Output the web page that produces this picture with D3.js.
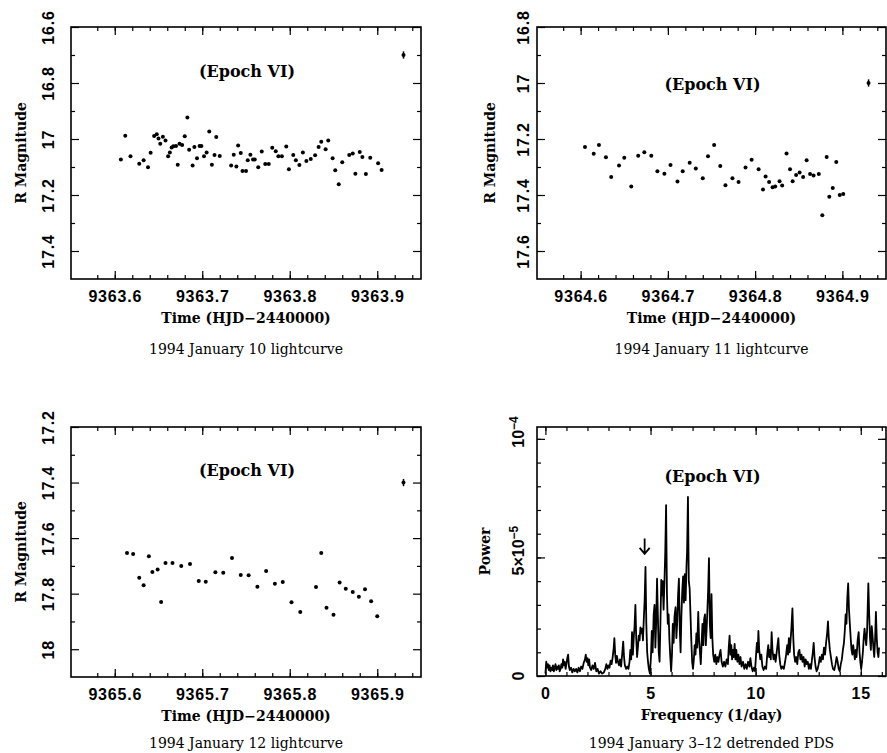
<!DOCTYPE html>
<html>
<head>
<meta charset="utf-8">
<script src="https://cdn.jsdelivr.net/npm/d3@7"></script>
<style>
  body { margin: 0; background: #fff; }
  svg text { fill: #000; }
  .tick line { stroke: #000; stroke-width: 1.2; }
</style>
</head>
<body>
<div id="viz"></div>
<script>
// ---- data ----
var jan10Time = [9363.607, 9363.612, 9363.618, 9363.628, 9363.633, 9363.638, 9363.641, 9363.645, 9363.648, 9363.650,
  9363.652, 9363.655, 9363.658, 9363.661, 9363.663, 9363.665, 9363.667, 9363.670, 9363.672, 9363.674,
  9363.677, 9363.680, 9363.683, 9363.685, 9363.689, 9363.691, 9363.694, 9363.697, 9363.699, 9363.702,
  9363.705, 9363.708, 9363.711, 9363.714, 9363.716, 9363.720, 9363.733, 9363.736, 9363.739, 9363.741,
  9363.744, 9363.746, 9363.750, 9363.752, 9363.755, 9363.758, 9363.760, 9363.764, 9363.768, 9363.772,
  9363.776, 9363.780, 9363.784, 9363.787, 9363.791, 9363.796, 9363.799, 9363.804, 9363.807, 9363.811,
  9363.815, 9363.819, 9363.824, 9363.829, 9363.833, 9363.836, 9363.841, 9363.844, 9363.849, 9363.852,
  9363.856, 9363.860, 9363.868, 9363.872, 9363.875, 9363.880, 9363.883, 9363.887, 9363.892, 9363.901, 9363.905];
var jan10Mag = [17.073, 16.988, 17.062, 17.088, 17.076, 17.101, 17.049, 16.989, 16.983, 16.998,
  17.017, 16.992, 17.005, 17.062, 17.048, 17.030, 17.026, 17.025, 17.092, 17.017,
  17.021, 16.990, 16.923, 17.038, 17.095, 17.029, 17.069, 17.025, 17.025, 17.062,
  17.048, 16.973, 17.092, 17.057, 16.993, 17.061, 17.095, 17.056, 17.098, 17.023,
  17.050, 17.114, 17.114, 17.076, 17.056, 17.073, 17.073, 17.101, 17.045, 17.089,
  17.089, 17.031, 17.044, 17.062, 17.062, 17.027, 17.108, 17.057, 17.076, 17.093,
  17.048, 17.079, 17.071, 17.058, 17.029, 17.010, 17.037, 17.005, 17.069, 17.112,
  17.162, 17.083, 17.057, 17.052, 17.124, 17.046, 17.064, 17.125, 17.067, 17.087, 17.111];

var jan11Time = [9364.605, 9364.615, 9364.621, 9364.629, 9364.635, 9364.644, 9364.650, 9364.658, 9364.666, 9364.673,
  9364.681, 9364.688, 9364.696, 9364.703, 9364.711, 9364.717, 9364.725, 9364.732, 9364.740, 9364.746,
  9364.753, 9364.760, 9364.766, 9364.774, 9364.781, 9364.789, 9364.796, 9364.804, 9364.809, 9364.812,
  9364.816, 9364.820, 9364.823, 9364.828, 9364.831, 9364.836, 9364.840, 9364.843, 9364.847, 9364.851,
  9364.855, 9364.859, 9364.863, 9364.867, 9364.873, 9364.877, 9364.882, 9364.885, 9364.889, 9364.893,
  9364.897, 9364.901];
var jan11Mag = [17.229, 17.253, 17.221, 17.265, 17.336, 17.295, 17.267, 17.370, 17.260, 17.247,
  17.260, 17.315, 17.324, 17.293, 17.352, 17.315, 17.285, 17.305, 17.340, 17.262,
  17.221, 17.296, 17.365, 17.340, 17.354, 17.302, 17.274, 17.308, 17.380, 17.334,
  17.354, 17.372, 17.370, 17.351, 17.366, 17.252, 17.308, 17.351, 17.329, 17.320,
  17.336, 17.276, 17.325, 17.330, 17.325, 17.472, 17.264, 17.406, 17.375, 17.282,
  17.400, 17.396];

var jan12Time = [9365.614, 9365.621, 9365.628, 9365.633, 9365.639, 9365.643, 9365.649, 9365.653, 9365.658, 9365.666,
  9365.676, 9365.686, 9365.696, 9365.704, 9365.715, 9365.724, 9365.734, 9365.744, 9365.753, 9365.763,
  9365.773, 9365.783, 9365.792, 9365.802, 9365.812, 9365.830, 9365.836, 9365.842, 9365.850, 9365.857,
  9365.864, 9365.872, 9365.879, 9365.886, 9365.893, 9365.900];
var jan12Mag = [17.654, 17.657, 17.743, 17.770, 17.665, 17.722, 17.713, 17.830, 17.690, 17.690,
  17.700, 17.693, 17.754, 17.757, 17.723, 17.725, 17.672, 17.733, 17.734, 17.775,
  17.718, 17.764, 17.758, 17.831, 17.866, 17.776, 17.654, 17.851, 17.876, 17.760,
  17.782, 17.794, 17.811, 17.784, 17.827, 17.881];

// typical error bar (time, mag) per night, half-length in mag
var errTime = [9363.930, 9364.930, 9365.930];
var errMag = [16.70, 17.00, 17.40];
var errSize = 0.013;

// power spectrum, power in units of 1e-5
var pdsFreq = [0.00, 0.04, 0.08, 0.12, 0.16, 0.2, 0.24, 0.28, 0.32, 0.36, 0.4, 0.44, 0.48, 0.52, 0.56, 0.6, 0.64, 0.68, 0.72, 0.76,
  0.8, 0.84, 0.88, 0.92, 0.96, 1.0, 1.04, 1.08, 1.12, 1.16, 1.22, 1.28, 1.34, 1.4, 1.46, 1.52, 1.58, 1.64, 1.7, 1.76,
  1.82, 1.88, 1.92, 1.96, 2.0, 2.04, 2.08, 2.12, 2.18, 2.24, 2.3, 2.36, 2.42, 2.48, 2.55, 2.62, 2.7, 2.78, 2.85, 2.9,
  2.95, 3.0, 3.05, 3.1, 3.15, 3.2, 3.25, 3.28, 3.32, 3.36, 3.4, 3.45, 3.5, 3.55, 3.6, 3.65, 3.7, 3.74, 3.78, 3.84,
  3.9, 3.95, 4.0, 4.04, 4.08, 4.12, 4.16, 4.2, 4.24, 4.28, 4.32, 4.36, 4.4, 4.44, 4.48, 4.52, 4.56, 4.6, 4.64, 4.68,
  4.72, 4.76, 4.8, 4.84, 4.88, 4.92, 4.97, 5.02, 5.06, 5.1, 5.15, 5.19, 5.23, 5.27, 5.31, 5.35, 5.39, 5.43, 5.47, 5.51,
  5.54, 5.58, 5.62, 5.66, 5.7, 5.74, 5.78, 5.82, 5.86, 5.9, 5.94, 5.98, 6.02, 6.06, 6.1, 6.14, 6.19, 6.23, 6.27, 6.31,
  6.35, 6.39, 6.43, 6.47, 6.51, 6.55, 6.59, 6.63, 6.67, 6.71, 6.74, 6.78, 6.82, 6.86, 6.9, 6.94, 6.98, 7.02, 7.06, 7.1,
  7.14, 7.18, 7.22, 7.27, 7.31, 7.35, 7.39, 7.43, 7.47, 7.51, 7.55, 7.59, 7.63, 7.67, 7.71, 7.74, 7.78, 7.82, 7.86, 7.9,
  7.94, 7.98, 8.03, 8.08, 8.13, 8.18, 8.23, 8.28, 8.33, 8.38, 8.44, 8.5, 8.56, 8.62, 8.68, 8.72, 8.76, 8.8, 8.84, 8.88,
  8.92, 8.96, 9.0, 9.04, 9.08, 9.13, 9.18, 9.23, 9.28, 9.33, 9.4, 9.46, 9.52, 9.58, 9.64, 9.7, 9.75, 9.8, 9.86, 9.92,
  9.97, 10.02, 10.06, 10.1, 10.13, 10.17, 10.22, 10.27, 10.32, 10.38, 10.44, 10.5, 10.55, 10.6, 10.64, 10.68, 10.72, 10.76, 10.8, 10.85,
  10.9, 10.95, 11.0, 11.04, 11.08, 11.12, 11.17, 11.22, 11.28, 11.34, 11.4, 11.45, 11.5, 11.54, 11.58, 11.62, 11.66, 11.7, 11.75, 11.79,
  11.83, 11.88, 11.93, 11.98, 12.03, 12.08, 12.13, 12.18, 12.23, 12.28, 12.33, 12.38, 12.43, 12.48, 12.53, 12.58, 12.63, 12.68, 12.72, 12.76,
  12.8, 12.85, 12.9, 12.95, 13.0, 13.05, 13.1, 13.15, 13.2, 13.25, 13.3, 13.35, 13.4, 13.44, 13.48, 13.53, 13.58, 13.63, 13.68, 13.74,
  13.8, 13.85, 13.9, 13.95, 14.0, 14.05, 14.1, 14.15, 14.2, 14.24, 14.28, 14.32, 14.36, 14.4, 14.44, 14.48, 14.52, 14.56, 14.6, 14.64,
  14.68, 14.72, 14.76, 14.8, 14.85, 14.9, 14.94, 14.98, 15.02, 15.06, 15.1, 15.14, 15.18, 15.22, 15.26, 15.3, 15.33, 15.36, 15.4, 15.44,
  15.48, 15.52, 15.56, 15.6, 15.64, 15.68, 15.72, 15.76, 15.8, 15.84, 15.87];
var pdsPower = [0.1, 0.6, 0.35, 0.5, 0.25, 0.45, 0.2, 0.35, 0.25, 0.45, 0.2, 0.35, 0.5, 0.25, 0.4, 0.3, 0.45, 0.2, 0.3, 0.5,
  0.35, 0.7, 0.45, 0.6, 0.3, 0.5, 0.75, 0.9, 0.4, 0.25, 0.35, 0.15, 0.3, 0.2, 0.3, 0.15, 0.35, 0.2, 0.4, 0.3,
  0.55, 0.7, 0.9, 0.6, 0.75, 0.45, 0.7, 0.35, 0.25, 0.45, 0.3, 0.55, 0.2, 0.3, 0.1, 0.2, 0.1, 0.15, 0.3, 0.5,
  0.3, 0.45, 0.35, 0.65, 0.5, 0.8, 1.2, 1.6, 0.9, 0.55, 0.85, 0.6, 0.45, 0.7, 0.4, 0.9, 1.45, 0.8, 0.45, 0.3,
  0.4, 0.3, 0.6, 1.1, 0.7, 1.85, 0.9, 1.6, 2.1, 3.0, 1.6, 0.8, 1.2, 1.7, 1.5, 2.05, 1.8, 2.0, 1.5, 2.4,
  3.2, 4.6, 2.2, 1.0, 0.6, 0.3, 0.1, 0.8, 1.9, 1.0, 2.6, 3.0, 1.2, 2.3, 4.1, 2.5, 1.0, 0.6, 2.2, 4.05,
  3.4, 4.0, 2.8, 3.9, 5.2, 7.2, 3.5, 2.2, 2.6, 1.5, 0.8, 0.2, 0.9, 2.2, 1.4, 2.5, 2.9, 1.6, 2.3, 3.4,
  4.1, 2.0, 1.0, 2.6, 3.6, 4.2, 3.1, 4.3, 3.2, 4.6, 5.3, 7.55, 4.0, 3.7, 2.6, 1.5, 0.6, 0.3, 0.7, 1.3,
  0.9, 1.8, 1.2, 2.7, 1.5, 1.0, 0.5, 1.4, 2.2, 1.3, 2.4, 2.6, 1.3, 2.0, 2.9, 3.6, 4.97, 2.2, 1.6, 3.45,
  1.6, 0.9, 0.6, 0.9, 0.5, 0.8, 0.6, 0.9, 1.1, 0.6, 0.4, 0.6, 0.4, 0.7, 0.5, 1.2, 1.7, 0.9, 1.3, 0.7,
  1.1, 0.8, 1.35, 0.7, 1.1, 0.6, 0.9, 0.5, 0.8, 0.4, 0.6, 0.3, 0.5, 0.3, 0.6, 0.4, 0.75, 0.4, 0.2, 0.35,
  0.2, 0.9, 1.4, 1.0, 1.9, 1.1, 0.7, 0.9, 0.4, 0.25, 0.4, 0.3, 0.9, 1.3, 0.8, 1.1, 0.7, 1.85, 1.1, 0.7,
  0.9, 0.6, 1.0, 1.3, 1.6, 0.9, 0.5, 0.3, 0.4, 0.3, 0.6, 0.9, 1.3, 0.9, 1.6, 1.0, 1.5, 2.0, 2.85, 1.6,
  0.9, 0.6, 0.8, 0.5, 1.0, 1.1, 0.7, 0.9, 0.6, 0.8, 0.4, 0.7, 0.5, 0.6, 0.3, 0.5, 0.3, 0.7, 1.0, 1.4,
  0.8, 0.4, 0.2, 0.3, 0.5, 0.8, 0.6, 0.9, 0.7, 1.2, 0.9, 1.4, 1.8, 2.3, 1.6, 1.1, 0.8, 0.5, 0.3, 0.25,
  0.5, 0.8, 0.6, 0.3, 0.2, 0.5, 0.7, 1.1, 1.4, 1.9, 2.6, 2.2, 3.3, 3.9, 2.8, 2.2, 1.6, 1.1, 0.9, 1.3,
  1.0, 0.7, 1.1, 0.8, 1.5, 1.85, 1.0, 0.6, 0.3, 0.6, 1.0, 1.6, 2.0, 1.6, 1.3, 1.9, 2.9, 3.9, 2.6, 1.6,
  1.1, 2.1, 1.7, 1.2, 0.8, 1.5, 2.7, 1.6, 1.0, 0.8, 1.2];

// arrow marking the candidate peak (freq, top, tip)
var arrowFreq = 4.72, arrowTop = 5.8, arrowTip = 5.15;

var svg = d3.select("#viz").append("svg")
  .attr("width", 887)
  .attr("height", 753);

var tickFont = "'Liberation Sans', Arial, sans-serif";
var serif = "'DejaVu Serif', serif";

// inside ticks on all four sides + frame
function drawAxes(g, x, y, w, h, o) {
  g.append("g").attr("transform", "translate(0," + h + ")")
    .call(d3.axisBottom(x).tickValues(o.xMinor).tickSize(-4).tickFormat(""));
  var bx = g.append("g").attr("transform", "translate(0," + h + ")")
    .call(d3.axisBottom(x).tickValues(o.xMajor).tickSize(-8).tickPadding(12).tickFormat(o.fmtX));
  bx.selectAll("text")
    .style("font-family", tickFont).style("font-weight", "bold")
    .style("font-size", "16px").style("letter-spacing", "0.8px");
  g.append("g").call(d3.axisTop(x).tickValues(o.xMinor).tickSize(-4).tickFormat(""));
  g.append("g").call(d3.axisTop(x).tickValues(o.xMajor).tickSize(-8).tickFormat(""));

  g.append("g").call(d3.axisLeft(y).tickValues(o.yMinor).tickSize(-4).tickFormat(""));
  var ly = g.append("g").call(d3.axisLeft(y).tickValues(o.yMajor).tickSize(-8).tickFormat(o.fmtY));
  ly.selectAll("text")
    .attr("x", null).attr("dy", null)
    .attr("transform", "translate(" + o.yLabelX + ",0) rotate(-90)")
    .style("text-anchor", "middle")
    .style("font-family", tickFont).style("font-weight", "bold")
    .style("font-size", "16px").style("letter-spacing", "0.8px");
  g.append("g").attr("transform", "translate(" + w + ",0)")
    .call(d3.axisRight(y).tickValues(o.yMinor).tickSize(-4).tickFormat(""));
  g.append("g").attr("transform", "translate(" + w + ",0)")
    .call(d3.axisRight(y).tickValues(o.yMajor).tickSize(-8).tickFormat(""));

  g.selectAll(".domain").remove();
  g.append("rect").attr("width", w).attr("height", h)
    .attr("fill", "none").attr("stroke", "#000").attr("stroke-width", 1.6);

  // axis titles + caption
  g.append("text")
    .attr("x", w / 2).attr("y", h + 44)
    .style("text-anchor", "middle")
    .style("font-family", serif).style("font-weight", "bold").style("font-size", "14px")
    .text(o.xTitle);
  g.append("text")
    .attr("transform", "translate(" + o.yTitleX + "," + (h / 2) + ") rotate(-90)")
    .style("text-anchor", "middle")
    .style("font-family", serif).style("font-weight", "bold").style("font-size", "14px")
    .text(o.yTitle);
  g.append("text")
    .attr("x", w / 2).attr("y", h + o.captionY)
    .style("text-anchor", "middle")
    .style("font-family", serif).style("font-size", "14px")
    .text(o.caption);
  g.append("text")
    .attr("x", w / 2 + 1).attr("y", o.epochY)
    .style("text-anchor", "middle")
    .style("font-family", serif).style("font-weight", "bold").style("font-size", "16px")
    .text("(Epoch VI)");
}

function magFmt(d) { return String(+d.toFixed(1)); }

function lightcurve(p) {
  var w = p.right - p.left, h = p.bottom - p.top;
  var g = svg.append("g").attr("transform", "translate(" + p.left + "," + p.top + ")");
  var x = d3.scaleLinear().domain(p.tDomain).range([0, w]);
  var y = d3.scaleLinear().domain(p.mDomain).range([0, h]);
  var t0 = p.tDomain[0], m0 = p.mDomain[0];

  drawAxes(g, x, y, w, h, {
    xMajor: [0.05, 0.15, 0.25, 0.35].map(function (d) { return +(t0 + d).toFixed(2); }),
    xMinor: d3.range(1, 20).map(function (i) { return t0 + 0.01 + i * 0.02; }),
    yMajor: [0, 0.2, 0.4, 0.6, 0.8].map(function (d) { return +(m0 + d).toFixed(1); }),
    yMinor: [0.1, 0.3, 0.5, 0.7].map(function (d) { return m0 + d; }),
    fmtX: function (d) { return d.toFixed(1); },
    fmtY: magFmt,
    yLabelX: p.yLabelX, yTitleX: p.yTitleX,
    xTitle: "Time (HJD\u22122440000)",
    yTitle: "R Magnitude",
    caption: p.caption,
    captionY: p.captionY,
    epochY: p.epochY
  });

  var pts = p.time.map(function (t, i) { return { t: t, m: p.mag[i] }; });
  g.selectAll("circle.pt")
    .data(pts)
    .enter().append("circle")
    .attr("class", "pt")
    .attr("r", 2)
    .attr("cx", function (d) { return x(d.t); })
    .attr("cy", function (d) { return y(d.m); })
    .style("fill", "#000");

  // error bar sample
  g.append("line")
    .attr("x1", x(p.errT)).attr("x2", x(p.errT))
    .attr("y1", y(p.errM - errSize)).attr("y2", y(p.errM + errSize))
    .attr("stroke", "#000").attr("stroke-width", 1.5);
  g.append("circle").attr("r", 2).attr("cx", x(p.errT)).attr("cy", y(p.errM)).style("fill", "#000");
}

lightcurve({ left: 71, right: 421, top: 27, bottom: 279,
  tDomain: [9363.55, 9363.95], mDomain: [16.6, 17.5],
  time: jan10Time, mag: jan10Mag, errT: errTime[0], errM: errMag[0],
  yLabelX: -17, yTitleX: -45, epochY: 50, captionY: 75,
  caption: "1994 January 10 lightcurve" });

lightcurve({ left: 537, right: 886, top: 27, bottom: 279,
  tDomain: [9364.55, 9364.95], mDomain: [16.8, 17.7],
  time: jan11Time, mag: jan11Mag, errT: errTime[1], errM: errMag[1],
  yLabelX: -8, yTitleX: -42, epochY: 63, captionY: 75,
  caption: "1994 January 11 lightcurve" });

lightcurve({ left: 71, right: 421, top: 427, bottom: 677,
  tDomain: [9365.55, 9365.95], mDomain: [17.2, 18.1],
  time: jan12Time, mag: jan12Mag, errT: errTime[2], errM: errMag[2],
  yLabelX: -17, yTitleX: -45, epochY: 49, captionY: 71,
  caption: "1994 January 12 lightcurve" });

// ---- power density spectrum ----
(function () {
  var left = 537, right = 886, top = 427, bottom = 676;
  var w = right - left, h = bottom - top;
  var g = svg.append("g").attr("transform", "translate(" + left + "," + top + ")");
  var x = d3.scaleLinear().domain([-0.4, 16.2]).range([0, w]);
  var y = d3.scaleLinear().domain([0, 10.5]).range([h, 0]);

  drawAxes(g, x, y, w, h, {
    xMajor: [0, 5, 10, 15],
    xMinor: d3.range(0, 17),
    yMajor: [0, 5, 10],
    yMinor: d3.range(0, 11),
    fmtX: function (d) { return d; },
    fmtY: function () { return ""; },
    yLabelX: -13, yTitleX: -47,
    xTitle: "Frequency (1/day)",
    yTitle: "Power",
    caption: "1994 January 3\u201312 detrended PDS",
    captionY: 72,
    epochY: 55
  });

  // y tick labels with exponents
  var yLabels = [
    { v: 0, base: "0", exp: "" },
    { v: 5, base: "5\u00d710", exp: "\u22125" },
    { v: 10, base: "10", exp: "\u22124" }
  ];
  yLabels.forEach(function (d) {
    var t = g.append("text")
      .attr("transform", "translate(-13," + y(d.v) + ") rotate(-90)")
      .style("text-anchor", d.exp ? "start" : "middle")
      .style("font-family", tickFont).style("font-weight", "bold").style("font-size", "16px");
    t.append("tspan").text(d.base);
    if (d.exp) {
      t.append("tspan").attr("dy", "-0.5em").style("font-size", "12px").text(d.exp);
      // center the base part on the tick
      var bw = t.select("tspan").node().getComputedTextLength();
      t.attr("x", -bw / 2);
    }
  });

  var pts = pdsFreq.map(function (f, i) { return [f, pdsPower[i]]; });
  var line = d3.line()
    .x(function (d) { return x(d[0]); })
    .y(function (d) { return y(d[1]); });
  g.append("path")
    .datum(pts)
    .attr("d", line)
    .attr("fill", "none")
    .attr("stroke", "#000")
    .attr("stroke-width", 1.8)
    .attr("stroke-linejoin", "round");

  // arrow
  var ax = x(arrowFreq), a1 = y(arrowTop), a2 = y(arrowTip);
  g.append("path")
    .attr("d", "M" + ax + "," + a1 + "L" + ax + "," + a2 +
      "M" + (ax - 5) + "," + (a2 - 6) + "L" + ax + "," + a2 + "L" + (ax + 5) + "," + (a2 - 6))
    .attr("fill", "none").attr("stroke", "#000").attr("stroke-width", 1.8);
})();
</script>
</body>
</html>
